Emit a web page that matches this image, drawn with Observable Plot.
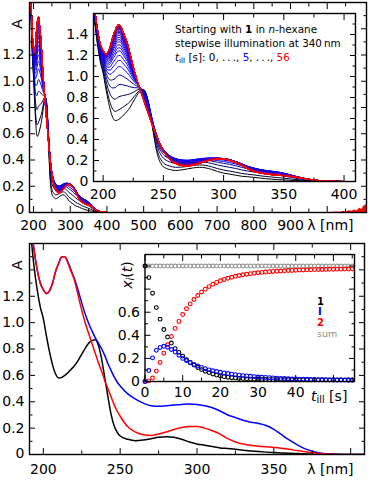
<!DOCTYPE html>
<html><head><meta charset="utf-8">
<script src="https://cdn.jsdelivr.net/npm/d3@7"></script>
<script src="https://cdn.jsdelivr.net/npm/@observablehq/plot@0.6"></script>
<style>
body{margin:0;background:#fff;}
#c{position:relative;width:368px;height:480px;overflow:hidden;font-family:"DejaVu Sans",sans-serif;}
#c svg{position:absolute;left:0;top:0;}
.lbl{position:absolute;white-space:nowrap;line-height:1;font-family:"DejaVu Sans",sans-serif;}
.lbl sub{font-size:70%;vertical-align:-0.25em;line-height:0;}
</style></head><body><div id="c">
<div class="lbl" style="left:175px;top:24px;font-size:10.4px">Starting with <b>1</b> in <i>n</i>-hexane</div>
<div class="lbl" style="left:175px;top:38px;font-size:10.4px">stepwise illumination at 340&#8201;nm</div>
<div class="lbl" style="left:175px;top:52px;font-size:10.4px"><i>t</i><sub>ill</sub> [s]: 0, .&#8201;.&#8201;., <span style="color:#0000ff">5</span>, .&#8201;.&#8201;., <span style="color:#ff0000">56</span></div>
<div class="lbl" style="left:317px;top:297px;font-size:10px;font-weight:bold;color:#000">1</div>
<div class="lbl" style="left:318px;top:307px;font-size:10px;font-weight:bold;color:#0000ff">I</div>
<div class="lbl" style="left:317px;top:318px;font-size:10px;font-weight:bold;color:#ff0000">2</div>
<div class="lbl" style="left:317px;top:329px;font-size:9.5px;color:#8c8c8c">sum</div>
<div class="lbl" style="left:311px;top:389px;font-size:14px"><i>t</i><sub>ill</sub> [s]</div>
<div class="lbl" style="left:127px;top:275px;font-size:14px;transform:translate(-50%,-50%) rotate(-90deg)"><i>x</i><sub><i>i</i></sub>(<i>t</i>)</div>
</div>
<script>
// ---- component spectra (bottom panel) ----
const wavelengths = [190,192,194,196,198,200,202,204,206,208,210,212,214,216,218,220,222,224,226,228,230,232,234,236,238,240,242,244,246,248,250,
  255,260,265,270,275,280,285,290,295,300,305,310,315,320,325,330,335,340,345,350,355,360,365,370,375,380,385,390,400,420,1000,1107];
const spec1 = [1.9,1.65,1.42,1.25,1.12,1.03,0.9,0.78,0.68,0.61,0.58,0.585,0.6,0.62,0.645,0.67,0.7,0.74,0.78,0.82,0.85,0.865,0.87,0.82,0.72,0.58,0.44,0.31,0.22,0.17,0.14,
  0.115,0.105,0.11,0.12,0.13,0.135,0.13,0.115,0.095,0.08,0.07,0.06,0.05,0.045,0.04,0.033,0.027,0.022,0.018,0.015,0.012,0.009,0.007,0.005,0.003,0.002,0.001,0,0,0,0,0];
const specI = [2.0,1.75,1.55,1.4,1.3,1.25,1.22,1.24,1.3,1.39,1.45,1.5,1.5,1.46,1.4,1.34,1.27,1.19,1.11,1.04,0.98,0.93,0.88,0.84,0.8,0.75,0.69,0.64,0.59,0.55,0.52,
  0.46,0.42,0.39,0.37,0.365,0.37,0.375,0.38,0.383,0.38,0.37,0.355,0.33,0.3,0.28,0.26,0.245,0.235,0.22,0.19,0.15,0.11,0.075,0.045,0.025,0.012,0.005,0.001,0,0,0,0];
const spec2 = [2.0,1.75,1.55,1.4,1.3,1.25,1.22,1.24,1.3,1.39,1.45,1.5,1.5,1.45,1.39,1.33,1.24,1.14,1.05,0.97,0.9,0.83,0.76,0.69,0.63,0.56,0.5,0.44,0.38,0.33,0.29,
  0.21,0.17,0.15,0.145,0.155,0.17,0.19,0.205,0.212,0.212,0.2,0.18,0.155,0.12,0.095,0.08,0.07,0.063,0.058,0.054,0.048,0.04,0.03,0.022,0.014,0.008,0.004,0.001,0,0,0,0];
// near-IR noise of the last spectra (top panel)
const tailW = [1010,1025,1035,1045,1052,1060,1068,1075,1082,1088,1094,1100,1107];
const tailA = [0,0.004,0.002,0.008,0.005,0.014,0.009,0.02,0.014,0.032,0.022,0.05,0.06];
// ---- kinetics (bottom inset) ----
const times = [0,1,2,3,4,5,6,7,8,9,10,11,12,13,14,15,16,17,18,19,20,21,22,23,24,25,26,27,28,29,30,31,32,33,34,35,36,37,38,39,40,41,42,43,44,45,46,47,48,49,50,51,52,53,54,55];
const x1 = [1,0.9,0.765,0.64,0.54,0.45,0.385,0.333,0.285,0.252,0.22,0.188,0.165,0.142,0.121,0.103,0.089,0.077,0.065,0.056,0.048,0.042,0.037,0.033,0.03,0.027,0.025,0.023,0.021,0.02,0.019,0.018,0.017,0.016,0.016,0.016,0.016,0.015,0.015,0.015,0.015,0.014,0.014,0.014,0.014,0.014,0.014,0.015,0.014,0.014,0.015,0.014,0.015,0.014,0.015,0.014];
const xI = [0,0.095,0.205,0.27,0.295,0.305,0.297,0.277,0.255,0.228,0.2,0.182,0.163,0.148,0.134,0.122,0.111,0.101,0.093,0.086,0.08,0.074,0.069,0.064,0.059,0.055,0.051,0.048,0.045,0.042,0.039,0.037,0.035,0.033,0.031,0.029,0.027,0.026,0.024,0.023,0.022,0.021,0.02,0.019,0.018,0.017,0.016,0.015,0.015,0.014,0.013,0.013,0.012,0.012,0.011,0.011];
const x2 = [0,0.005,0.03,0.09,0.165,0.245,0.318,0.39,0.46,0.52,0.58,0.63,0.672,0.71,0.745,0.775,0.8,0.822,0.842,0.858,0.872,0.884,0.894,0.903,0.911,0.918,0.924,0.929,0.934,0.938,0.942,0.945,0.948,0.951,0.953,0.955,0.957,0.959,0.961,0.962,0.963,0.965,0.966,0.967,0.968,0.969,0.97,0.97,0.971,0.972,0.972,0.973,0.973,0.974,0.974,0.975];

// ---- tick values ----
const ticksTopX = [200,300,400,500,600,700,800,900,1000];
const ticksTopXminor = [250,350,450,550,650,750,850,950,1050];
const ticksA = [0,0.2,0.4,0.6,0.8,1.0,1.2,1.4];
const ticksAminor = [0.1,0.3,0.5,0.7,0.9,1.1,1.3,1.5];
const labelsA = [0.2,0.4,0.6,0.8,1.0,1.2];
const labelsA0 = [0];
const ticksInsetX = [200,250,300,350,400];
const ticksInsetXminor = [225,275,325,375];
const ticksBotX = [200,250,300,350,400];
const ticksBotXminor = [225,275,325,375];
const ticksT = [0,10,20,30,40,50];
const ticksTminor = [5,15,25,35,45,55];
const labelsT = [0,10,20,30,40];
const ticksX = [0,0.2,0.4,0.6,0.8,1.0];
const ticksXminor = [0.1,0.3,0.5,0.7,0.9];
const labelsX = [0,0.2,0.4,0.6];

// ---- derived tables ----
const comp = wavelengths.map((w,j)=>({w, a1:spec1[j], aI:specI[j], a2:spec2[j]}));
const colorOf = t => t <= 5 ? d3.interpolateRgb("#000000","#0000ff")(t/5) : d3.interpolateRgb("#0000ff","#ff0000")((t-5)/50);
const mix = [];
times.forEach((t,k)=>wavelengths.forEach((w,j)=>mix.push({t, w, A: x1[k]*spec1[j] + xI[k]*specI[j] + x2[k]*spec2[j], c: colorOf(t)})));
const tail = tailW.map((w,i)=>({w, A: tailA[i]}));
const kin = times.map((t,k)=>({t, x1:x1[k], xI:xI[k], x2:x2[k], sum:x1[k]+xI[k]+x2[k]}));

const fmtA = d => d === 0 ? "0" : d.toFixed(1);
const baseStyle = {fontFamily:"DejaVu Sans, sans-serif", fontSize:"14px", background:"transparent", overflow:"visible", color:"black"};

function frameTicks(xMaj, xMin, yMaj, yMin) {
  const big = 6, small = 3.5;
  return [
    Plot.axisX(xMaj, {anchor:"bottom", tickSize:big, dy:-big, fill:"none", label:null}),
    Plot.axisX(xMin, {anchor:"bottom", tickSize:small, dy:-small, fill:"none", label:null}),
    Plot.axisX(xMaj, {anchor:"top", tickSize:big, dy:big, fill:"none", label:null}),
    Plot.axisX(xMin, {anchor:"top", tickSize:small, dy:small, fill:"none", label:null}),
    Plot.axisY(yMaj, {anchor:"left", tickSize:big, dx:big, fill:"none", label:null}),
    Plot.axisY(yMin, {anchor:"left", tickSize:small, dx:small, fill:"none", label:null}),
    Plot.axisY(yMaj, {anchor:"right", tickSize:big, dx:-big, fill:"none", label:null}),
    Plot.axisY(yMin, {anchor:"right", tickSize:small, dx:-small, fill:"none", label:null})
  ];
}

const W = 368, H = 480;
// ---- top outer panel ----
const topOuter = Plot.plot({
  width:W, height:H, marginLeft:29, marginRight:2, marginTop:2, marginBottom:268,
  style: baseStyle,
  x:{domain:[189,1107]}, y:{domain:[0,1.6]}, color:{type:"identity"},
  marks:[
    Plot.line(mix, {x:"w", y:"A", z:"t", stroke:"c", strokeWidth:1, curve:"monotone-x", clip:true}),
    Plot.areaY(tail, {x:"w", y:"A", fill:"#ff0000", clip:true}),
    Plot.frame({stroke:"black", strokeWidth:1.4}),
    ...frameTicks(ticksTopX, ticksTopXminor, ticksA, ticksAminor),
    Plot.axisX(ticksTopX.filter(d=>d<1000), {anchor:"bottom", tickSize:0, tickPadding:8, label:null}),
    Plot.axisY(labelsA, {anchor:"left", tickSize:0, tickPadding:5, tickFormat:fmtA, label:null}),
    Plot.axisY(labelsA0, {anchor:"left", tickSize:0, tickPadding:5, tickFormat:fmtA, label:null, dy:-3}),
    Plot.text([{y:1.4, s:"A"}], {y:"y", text:"s", frameAnchor:"left", rotate:-90, dx:-12, fontSize:14}),
    Plot.text(["λ [nm]"], {frameAnchor:"bottom-right", textAnchor:"end", lineAnchor:"top", dx:-13, dy:8, fontSize:14})
  ]
});
// ---- top inset ----
const topInset = Plot.plot({
  width:W, height:H, marginLeft:93, marginRight:13, marginTop:13, marginBottom:299,
  style: baseStyle,
  x:{domain:[192,409.5]}, y:{domain:[0,1.6]}, color:{type:"identity"},
  marks:[
    Plot.frame({fill:"white", stroke:"none"}),
    Plot.line(mix, {x:"w", y:"A", z:"t", stroke:"c", strokeWidth:1, curve:"monotone-x", clip:true}),
    Plot.frame({stroke:"black", strokeWidth:1.4}),
    ...frameTicks(ticksInsetX, ticksInsetXminor, ticksA, ticksAminor),
    Plot.axisX(ticksInsetX, {anchor:"bottom", tickSize:0, tickPadding:8, label:null}),
    Plot.axisY(ticksA, {anchor:"left", tickSize:0, tickPadding:5, tickFormat:fmtA, label:null})
  ]
});
// ---- bottom outer panel ----
const botOuter = Plot.plot({
  width:W, height:H, marginLeft:29, marginRight:4, marginTop:243, marginBottom:26,
  style: baseStyle,
  x:{domain:[191,409]}, y:{domain:[0,1.6]},
  marks:[
    Plot.line(comp, {x:"w", y:"a1", stroke:"#000000", strokeWidth:1.5, curve:"monotone-x", clip:true}),
    Plot.line(comp, {x:"w", y:"aI", stroke:"#0000ff", strokeWidth:1.5, curve:"monotone-x", clip:true}),
    Plot.line(comp, {x:"w", y:"a2", stroke:"#ff0000", strokeWidth:1.5, curve:"monotone-x", clip:true}),
    Plot.frame({stroke:"black", strokeWidth:1.4}),
    ...frameTicks(ticksBotX, ticksBotXminor, ticksA, ticksAminor),
    Plot.axisX(ticksBotX.filter(d=>d<400), {anchor:"bottom", tickSize:0, tickPadding:10, label:null}),
    Plot.axisY(labelsA, {anchor:"left", tickSize:0, tickPadding:5, tickFormat:fmtA, label:null}),
    Plot.axisY(labelsA0, {anchor:"left", tickSize:0, tickPadding:5, tickFormat:fmtA, label:null, dy:-1}),
    Plot.text([{y:1.4, s:"A"}], {y:"y", text:"s", frameAnchor:"left", rotate:-90, dx:-12, fontSize:14}),
    Plot.text(["λ [nm]"], {frameAnchor:"bottom-right", textAnchor:"end", lineAnchor:"top", dx:-11, dy:10, fontSize:14})
  ]
});
// ---- bottom inset ----
const botInset = Plot.plot({
  width:W, height:H, marginLeft:144.5, marginRight:14, marginTop:254, marginBottom:99,
  style: baseStyle,
  x:{domain:[0,55.6]}, y:{domain:[0,1.1]},
  marks:[
    Plot.frame({fill:"white", stroke:"none"}),
    Plot.dot(kin, {x:"t", y:"sum", r:1.9, stroke:"#999999", strokeWidth:1.1}),
    Plot.dot(kin, {x:"t", y:"x1", r:1.9, stroke:"#000000", strokeWidth:1.1}),
    Plot.dot(kin, {x:"t", y:"x2", r:1.9, stroke:"#ff0000", strokeWidth:1.1}),
    Plot.dot(kin, {x:"t", y:"xI", r:1.9, stroke:"#0000ff", strokeWidth:1.1}),
    Plot.frame({stroke:"black", strokeWidth:1.4}),
    ...frameTicks(ticksT, ticksTminor, ticksX, ticksXminor),
    Plot.axisX(labelsT, {anchor:"bottom", tickSize:0, tickPadding:6, label:null}),
    Plot.axisY(labelsX, {anchor:"left", tickSize:0, tickPadding:5, tickFormat:fmtA, label:null})
  ]
});
const c = document.getElementById("c");
const firstLbl = c.querySelector(".lbl");
[topOuter, topInset, botOuter, botInset].forEach(s => c.insertBefore(s, firstLbl));
</script></body></html>
